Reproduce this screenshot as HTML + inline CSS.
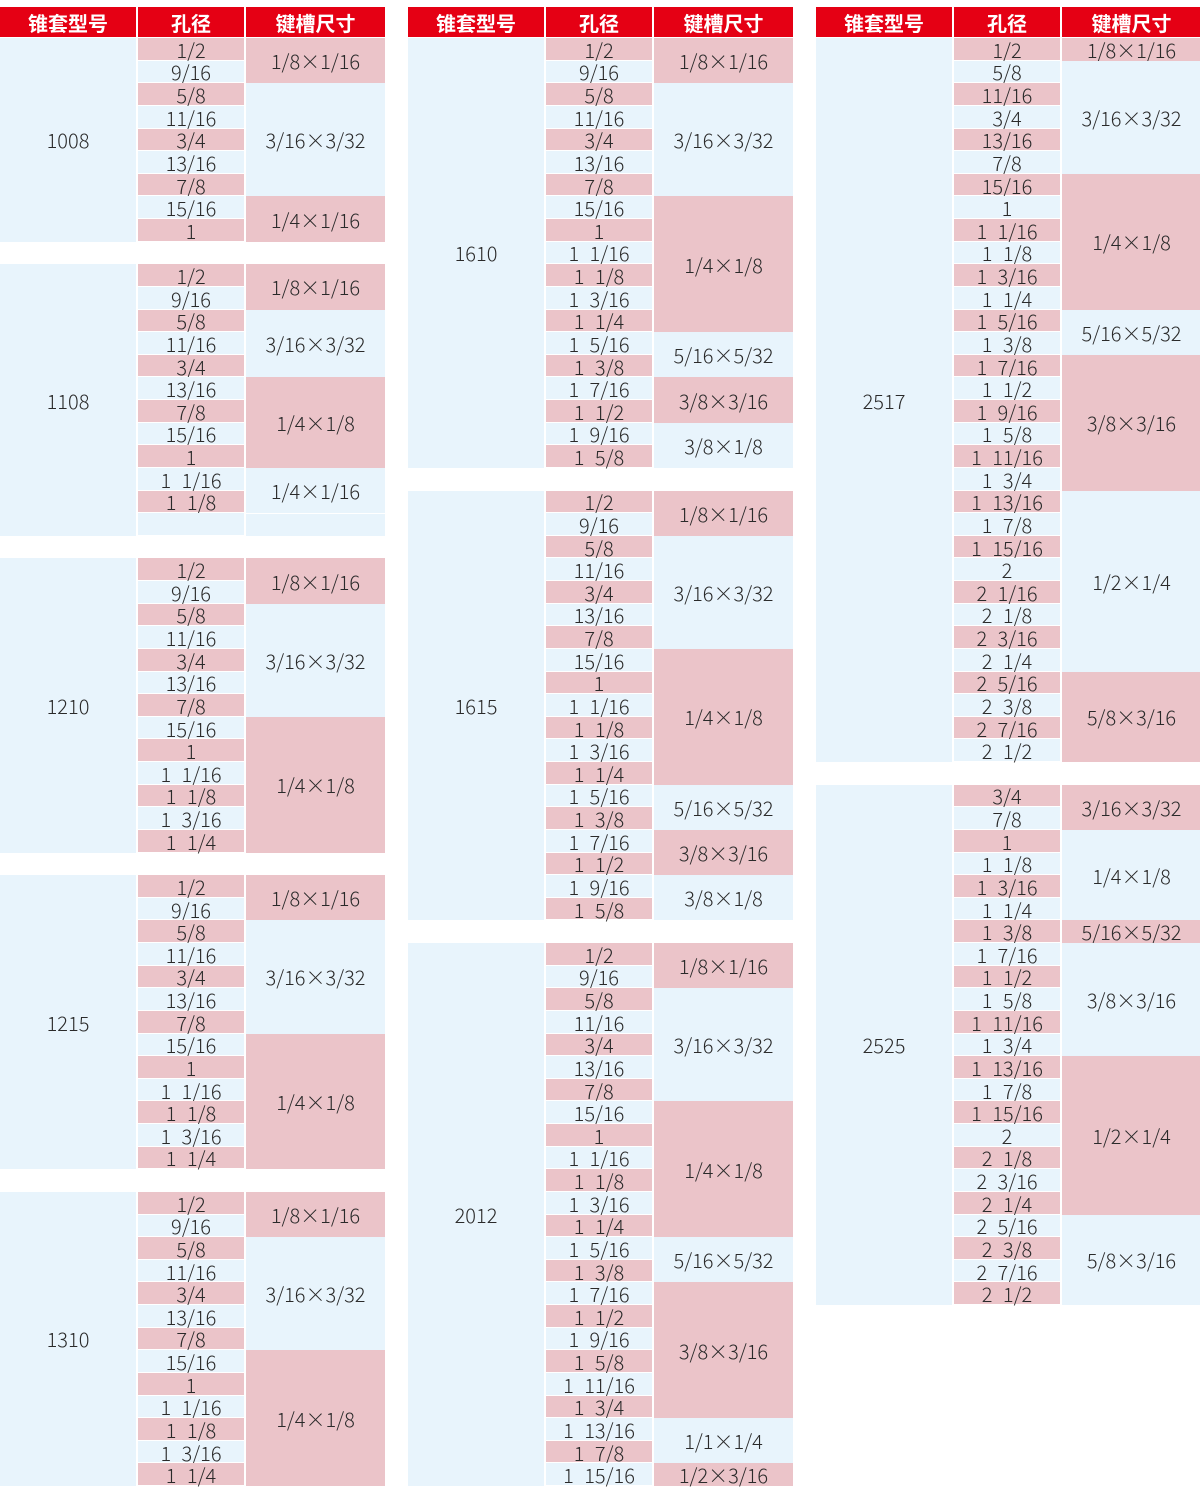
<!DOCTYPE html>
<html><head><meta charset="utf-8">
<style>
*{margin:0;padding:0;box-sizing:border-box}
body{width:1200px;height:1492px;background:#fff;position:relative;overflow:hidden;font-family:"Liberation Sans","Noto Sans CJK SC",sans-serif;color:#2a2a2a}
.g{position:absolute;top:0;width:385px}
.h{position:absolute;top:7px;height:30px;background:#e50014;color:#fff;font-family:"Noto Sans CJK SC",sans-serif;font-weight:bold;font-size:20px;display:flex;align-items:center;justify-content:center}
.t{position:absolute;top:38px;left:0;display:grid;grid-template-columns:136px 106px 139px;column-gap:2px;grid-template-rows:repeat(64,22.64px)}
.t div{display:flex;align-items:center;justify-content:center;font-size:20px;font-family:"Noto Sans CJK SC",sans-serif;font-weight:300;white-space:pre}
.m{grid-column:1;background:#e8f4fc}
.p{background:#ebc4c9}
.b{background:#e8f4fc}
.o{grid-column:2;box-shadow:inset 0 -1px #fff;word-spacing:6px}
.k{grid-column:3}
</style></head><body>

<div class="g" style="left:0">
<div class="h" style="left:0;width:136px">锥套型号</div><div class="h" style="left:138px;width:106px">孔径</div><div class="h" style="left:246px;width:139px">键槽尺寸</div>
<div class="t">
<div class="m" style="grid-row:1/span 9">1008</div>
<div class="o p" style="grid-row:1">1/2</div><div class="o b" style="grid-row:2">9/16</div><div class="o p" style="grid-row:3">5/8</div><div class="o b" style="grid-row:4">11/16</div><div class="o p" style="grid-row:5">3/4</div><div class="o b" style="grid-row:6">13/16</div><div class="o p" style="grid-row:7">7/8</div><div class="o b" style="grid-row:8">15/16</div><div class="o p" style="grid-row:9">1</div>
<div class="k p" style="grid-row:1/span 2">1/8×1/16</div><div class="k b" style="grid-row:3/span 5">3/16×3/32</div><div class="k p" style="grid-row:8/span 2">1/4×1/16</div>

<div class="m" style="grid-row:11/span 12">1108</div>
<div class="o p" style="grid-row:11">1/2</div><div class="o b" style="grid-row:12">9/16</div><div class="o p" style="grid-row:13">5/8</div><div class="o b" style="grid-row:14">11/16</div><div class="o p" style="grid-row:15">3/4</div><div class="o b" style="grid-row:16">13/16</div><div class="o p" style="grid-row:17">7/8</div><div class="o b" style="grid-row:18">15/16</div><div class="o p" style="grid-row:19">1</div><div class="o b" style="grid-row:20">1 1/16</div><div class="o p" style="grid-row:21">1 1/8</div><div class="o b" style="grid-row:22"></div>
<div class="k p" style="grid-row:11/span 2">1/8×1/16</div><div class="k b" style="grid-row:13/span 3">3/16×3/32</div><div class="k p" style="grid-row:16/span 4">1/4×1/8</div><div class="k b" style="grid-row:20/span 2">1/4×1/16</div><div class="k b" style="grid-row:22;box-shadow:inset 0 1px #fff"></div>

<div class="m" style="grid-row:24/span 13">1210</div>
<div class="o p" style="grid-row:24">1/2</div><div class="o b" style="grid-row:25">9/16</div><div class="o p" style="grid-row:26">5/8</div><div class="o b" style="grid-row:27">11/16</div><div class="o p" style="grid-row:28">3/4</div><div class="o b" style="grid-row:29">13/16</div><div class="o p" style="grid-row:30">7/8</div><div class="o b" style="grid-row:31">15/16</div><div class="o p" style="grid-row:32">1</div><div class="o b" style="grid-row:33">1 1/16</div><div class="o p" style="grid-row:34">1 1/8</div><div class="o b" style="grid-row:35">1 3/16</div><div class="o p" style="grid-row:36">1 1/4</div>
<div class="k p" style="grid-row:24/span 2">1/8×1/16</div><div class="k b" style="grid-row:26/span 5">3/16×3/32</div><div class="k p" style="grid-row:31/span 6">1/4×1/8</div>

<div class="m" style="grid-row:38/span 13">1215</div>
<div class="o p" style="grid-row:38">1/2</div><div class="o b" style="grid-row:39">9/16</div><div class="o p" style="grid-row:40">5/8</div><div class="o b" style="grid-row:41">11/16</div><div class="o p" style="grid-row:42">3/4</div><div class="o b" style="grid-row:43">13/16</div><div class="o p" style="grid-row:44">7/8</div><div class="o b" style="grid-row:45">15/16</div><div class="o p" style="grid-row:46">1</div><div class="o b" style="grid-row:47">1 1/16</div><div class="o p" style="grid-row:48">1 1/8</div><div class="o b" style="grid-row:49">1 3/16</div><div class="o p" style="grid-row:50">1 1/4</div>
<div class="k p" style="grid-row:38/span 2">1/8×1/16</div><div class="k b" style="grid-row:40/span 5">3/16×3/32</div><div class="k p" style="grid-row:45/span 6">1/4×1/8</div>

<div class="m" style="grid-row:52/span 13">1310</div>
<div class="o p" style="grid-row:52">1/2</div><div class="o b" style="grid-row:53">9/16</div><div class="o p" style="grid-row:54">5/8</div><div class="o b" style="grid-row:55">11/16</div><div class="o p" style="grid-row:56">3/4</div><div class="o b" style="grid-row:57">13/16</div><div class="o p" style="grid-row:58">7/8</div><div class="o b" style="grid-row:59">15/16</div><div class="o p" style="grid-row:60">1</div><div class="o b" style="grid-row:61">1 1/16</div><div class="o p" style="grid-row:62">1 1/8</div><div class="o b" style="grid-row:63">1 3/16</div><div class="o p" style="grid-row:64">1 1/4</div>
<div class="k p" style="grid-row:52/span 2">1/8×1/16</div><div class="k b" style="grid-row:54/span 5">3/16×3/32</div><div class="k p" style="grid-row:59/span 6">1/4×1/8</div>
</div></div>

<div class="g" style="left:408px">
<div class="h" style="left:0;width:136px">锥套型号</div><div class="h" style="left:138px;width:106px">孔径</div><div class="h" style="left:246px;width:139px">键槽尺寸</div>
<div class="t">
<div class="m" style="grid-row:1/span 19">1610</div>
<div class="o p" style="grid-row:1">1/2</div><div class="o b" style="grid-row:2">9/16</div><div class="o p" style="grid-row:3">5/8</div><div class="o b" style="grid-row:4">11/16</div><div class="o p" style="grid-row:5">3/4</div><div class="o b" style="grid-row:6">13/16</div><div class="o p" style="grid-row:7">7/8</div><div class="o b" style="grid-row:8">15/16</div><div class="o p" style="grid-row:9">1</div><div class="o b" style="grid-row:10">1 1/16</div><div class="o p" style="grid-row:11">1 1/8</div><div class="o b" style="grid-row:12">1 3/16</div><div class="o p" style="grid-row:13">1 1/4</div><div class="o b" style="grid-row:14">1 5/16</div><div class="o p" style="grid-row:15">1 3/8</div><div class="o b" style="grid-row:16">1 7/16</div><div class="o p" style="grid-row:17">1 1/2</div><div class="o b" style="grid-row:18">1 9/16</div><div class="o p" style="grid-row:19">1 5/8</div>
<div class="k p" style="grid-row:1/span 2">1/8×1/16</div><div class="k b" style="grid-row:3/span 5">3/16×3/32</div><div class="k p" style="grid-row:8/span 6">1/4×1/8</div><div class="k b" style="grid-row:14/span 2">5/16×5/32</div><div class="k p" style="grid-row:16/span 2">3/8×3/16</div><div class="k b" style="grid-row:18/span 2">3/8×1/8</div>

<div class="m" style="grid-row:21/span 19">1615</div>
<div class="o p" style="grid-row:21">1/2</div><div class="o b" style="grid-row:22">9/16</div><div class="o p" style="grid-row:23">5/8</div><div class="o b" style="grid-row:24">11/16</div><div class="o p" style="grid-row:25">3/4</div><div class="o b" style="grid-row:26">13/16</div><div class="o p" style="grid-row:27">7/8</div><div class="o b" style="grid-row:28">15/16</div><div class="o p" style="grid-row:29">1</div><div class="o b" style="grid-row:30">1 1/16</div><div class="o p" style="grid-row:31">1 1/8</div><div class="o b" style="grid-row:32">1 3/16</div><div class="o p" style="grid-row:33">1 1/4</div><div class="o b" style="grid-row:34">1 5/16</div><div class="o p" style="grid-row:35">1 3/8</div><div class="o b" style="grid-row:36">1 7/16</div><div class="o p" style="grid-row:37">1 1/2</div><div class="o b" style="grid-row:38">1 9/16</div><div class="o p" style="grid-row:39">1 5/8</div>
<div class="k p" style="grid-row:21/span 2">1/8×1/16</div><div class="k b" style="grid-row:23/span 5">3/16×3/32</div><div class="k p" style="grid-row:28/span 6">1/4×1/8</div><div class="k b" style="grid-row:34/span 2">5/16×5/32</div><div class="k p" style="grid-row:36/span 2">3/8×3/16</div><div class="k b" style="grid-row:38/span 2">3/8×1/8</div>

<div class="m" style="grid-row:41/span 24">2012</div>
<div class="o p" style="grid-row:41">1/2</div><div class="o b" style="grid-row:42">9/16</div><div class="o p" style="grid-row:43">5/8</div><div class="o b" style="grid-row:44">11/16</div><div class="o p" style="grid-row:45">3/4</div><div class="o b" style="grid-row:46">13/16</div><div class="o p" style="grid-row:47">7/8</div><div class="o b" style="grid-row:48">15/16</div><div class="o p" style="grid-row:49">1</div><div class="o b" style="grid-row:50">1 1/16</div><div class="o p" style="grid-row:51">1 1/8</div><div class="o b" style="grid-row:52">1 3/16</div><div class="o p" style="grid-row:53">1 1/4</div><div class="o b" style="grid-row:54">1 5/16</div><div class="o p" style="grid-row:55">1 3/8</div><div class="o b" style="grid-row:56">1 7/16</div><div class="o p" style="grid-row:57">1 1/2</div><div class="o b" style="grid-row:58">1 9/16</div><div class="o p" style="grid-row:59">1 5/8</div><div class="o b" style="grid-row:60">1 11/16</div><div class="o p" style="grid-row:61">1 3/4</div><div class="o b" style="grid-row:62">1 13/16</div><div class="o p" style="grid-row:63">1 7/8</div><div class="o b" style="grid-row:64">1 15/16</div>
<div class="k p" style="grid-row:41/span 2">1/8×1/16</div><div class="k b" style="grid-row:43/span 5">3/16×3/32</div><div class="k p" style="grid-row:48/span 6">1/4×1/8</div><div class="k b" style="grid-row:54/span 2">5/16×5/32</div><div class="k p" style="grid-row:56/span 6">3/8×3/16</div><div class="k b" style="grid-row:62/span 2">1/1×1/4</div><div class="k p" style="grid-row:64">1/2×3/16</div>
</div></div>

<div class="g" style="left:816px;width:384px">
<div class="h" style="left:0;width:136px">锥套型号</div><div class="h" style="left:138px;width:106px">孔径</div><div class="h" style="left:246px;width:139px">键槽尺寸</div>
<div class="t">
<div class="m" style="grid-row:1/span 32">2517</div>
<div class="o p" style="grid-row:1">1/2</div><div class="o b" style="grid-row:2">5/8</div><div class="o p" style="grid-row:3">11/16</div><div class="o b" style="grid-row:4">3/4</div><div class="o p" style="grid-row:5">13/16</div><div class="o b" style="grid-row:6">7/8</div><div class="o p" style="grid-row:7">15/16</div><div class="o b" style="grid-row:8">1</div><div class="o p" style="grid-row:9">1 1/16</div><div class="o b" style="grid-row:10">1 1/8</div><div class="o p" style="grid-row:11">1 3/16</div><div class="o b" style="grid-row:12">1 1/4</div><div class="o p" style="grid-row:13">1 5/16</div><div class="o b" style="grid-row:14">1 3/8</div><div class="o p" style="grid-row:15">1 7/16</div><div class="o b" style="grid-row:16">1 1/2</div><div class="o p" style="grid-row:17">1 9/16</div><div class="o b" style="grid-row:18">1 5/8</div><div class="o p" style="grid-row:19">1 11/16</div><div class="o b" style="grid-row:20">1 3/4</div><div class="o p" style="grid-row:21">1 13/16</div><div class="o b" style="grid-row:22">1 7/8</div><div class="o p" style="grid-row:23">1 15/16</div><div class="o b" style="grid-row:24">2</div><div class="o p" style="grid-row:25">2 1/16</div><div class="o b" style="grid-row:26">2 1/8</div><div class="o p" style="grid-row:27">2 3/16</div><div class="o b" style="grid-row:28">2 1/4</div><div class="o p" style="grid-row:29">2 5/16</div><div class="o b" style="grid-row:30">2 3/8</div><div class="o p" style="grid-row:31">2 7/16</div><div class="o b" style="grid-row:32">2 1/2</div>
<div class="k p" style="grid-row:1">1/8×1/16</div><div class="k b" style="grid-row:2/span 5">3/16×3/32</div><div class="k p" style="grid-row:7/span 6">1/4×1/8</div><div class="k b" style="grid-row:13/span 2">5/16×5/32</div><div class="k p" style="grid-row:15/span 6">3/8×3/16</div><div class="k b" style="grid-row:21/span 8">1/2×1/4</div><div class="k p" style="grid-row:29/span 4">5/8×3/16</div>

<div class="m" style="grid-row:34/span 23">2525</div>
<div class="o p" style="grid-row:34">3/4</div><div class="o b" style="grid-row:35">7/8</div><div class="o p" style="grid-row:36">1</div><div class="o b" style="grid-row:37">1 1/8</div><div class="o p" style="grid-row:38">1 3/16</div><div class="o b" style="grid-row:39">1 1/4</div><div class="o p" style="grid-row:40">1 3/8</div><div class="o b" style="grid-row:41">1 7/16</div><div class="o p" style="grid-row:42">1 1/2</div><div class="o b" style="grid-row:43">1 5/8</div><div class="o p" style="grid-row:44">1 11/16</div><div class="o b" style="grid-row:45">1 3/4</div><div class="o p" style="grid-row:46">1 13/16</div><div class="o b" style="grid-row:47">1 7/8</div><div class="o p" style="grid-row:48">1 15/16</div><div class="o b" style="grid-row:49">2</div><div class="o p" style="grid-row:50">2 1/8</div><div class="o b" style="grid-row:51">2 3/16</div><div class="o p" style="grid-row:52">2 1/4</div><div class="o b" style="grid-row:53">2 5/16</div><div class="o p" style="grid-row:54">2 3/8</div><div class="o b" style="grid-row:55">2 7/16</div><div class="o p" style="grid-row:56">2 1/2</div>
<div class="k p" style="grid-row:34/span 2">3/16×3/32</div><div class="k b" style="grid-row:36/span 4">1/4×1/8</div><div class="k p" style="grid-row:40">5/16×5/32</div><div class="k b" style="grid-row:41/span 5">3/8×3/16</div><div class="k p" style="grid-row:46/span 7">1/2×1/4</div><div class="k b" style="grid-row:53/span 4">5/8×3/16</div>
</div></div>
</body></html>
